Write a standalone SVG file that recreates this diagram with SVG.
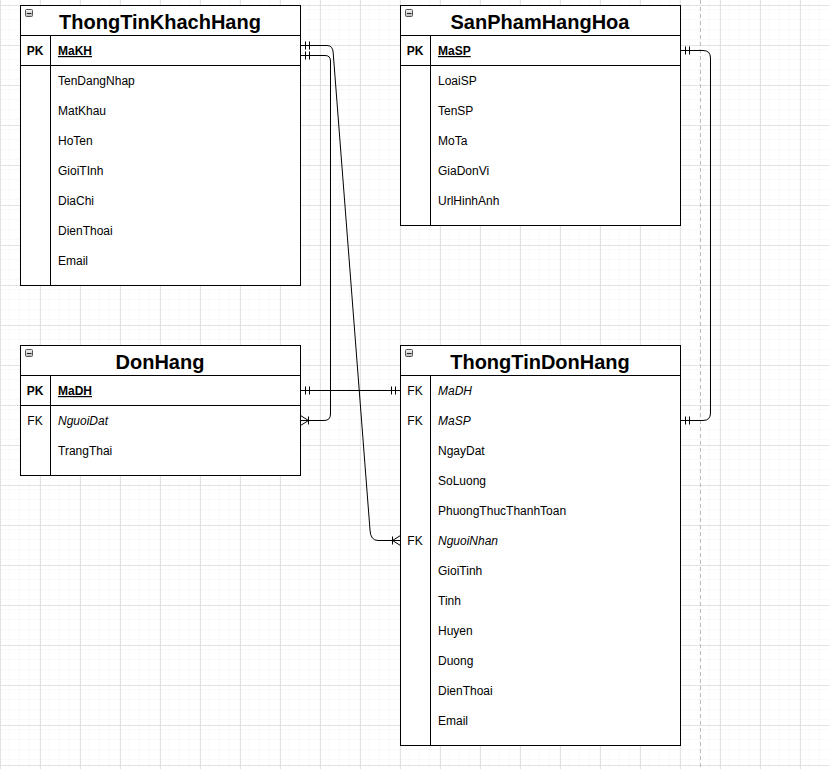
<svg xmlns="http://www.w3.org/2000/svg" width="829" height="769" viewBox="0 0 829 769">
<defs>
<pattern id="minor" width="10" height="10" patternUnits="userSpaceOnUse" x="0" y="5">
<path d="M10 0V10M0 10H10" fill="none" stroke="#f2f2f2" stroke-width="1"/>
</pattern>
<pattern id="major" width="40" height="40" patternUnits="userSpaceOnUse" x="0" y="5">
<rect width="40" height="40" fill="url(#minor)"/>
<path d="M0.5 0V40M0 0.5H40" fill="none" stroke="#e2e2e2" stroke-width="1"/>
</pattern>
<linearGradient id="ig" x1="0" y1="0" x2="0" y2="1">
<stop offset="0" stop-color="#f4f4f4"/><stop offset="1" stop-color="#b8b8b8"/>
</linearGradient>
<g id="icon"><rect x="0.5" y="0.5" width="7" height="7" rx="1" fill="url(#ig)" stroke="#555" stroke-width="1"/><path d="M2 4.5H6.5" stroke="#222" stroke-width="1"/></g>
</defs>
<style>
.box{fill:#fff;stroke:#000;stroke-width:1}
.ln{stroke:#000;stroke-width:1;fill:none}
.title{font-family:"Liberation Sans",Helvetica,Arial,sans-serif;font-size:20px;font-weight:bold;text-anchor:middle;fill:#000}
.t{font-family:"Liberation Sans",Helvetica,Arial,sans-serif;font-size:12px;fill:#000}
.k{font-family:"Liberation Sans",Helvetica,Arial,sans-serif;font-size:12px;fill:#000;text-anchor:middle}
.b{font-weight:bold}
.u{text-decoration:underline}
.i{font-style:italic}
.c{stroke:#000;stroke-width:1;fill:none}
</style>
<rect width="829" height="769" fill="#fff"/>
<rect width="829" height="769" fill="url(#major)"/>
<line x1="700.5" y1="0" x2="700.5" y2="769" stroke="#bdbdbd" stroke-width="1" stroke-dasharray="4 3"/>

<g id="ThongTinKhachHang">
<rect class="box" x="20.5" y="5.5" width="280" height="280"/>
<line class="ln" x1="20.5" y1="35.5" x2="300.5" y2="35.5"/>
<line class="ln" x1="20.5" y1="65.5" x2="300.5" y2="65.5"/>
<line class="ln" x1="50.5" y1="35.5" x2="50.5" y2="285.5"/>
<use href="#icon" x="25" y="9"/>
<text class="title" x="160" y="29">ThongTinKhachHang</text>
<text class="k b" x="35" y="55">PK</text>
<text class="t b u" x="58" y="55">MaKH</text>
<text class="t" x="58" y="85">TenDangNhap</text>
<text class="t" x="58" y="115">MatKhau</text>
<text class="t" x="58" y="145">HoTen</text>
<text class="t" x="58" y="175">GioiTInh</text>
<text class="t" x="58" y="205">DiaChi</text>
<text class="t" x="58" y="235">DienThoai</text>
<text class="t" x="58" y="265">Email</text>
</g>

<g id="SanPhamHangHoa">
<rect class="box" x="400.5" y="5.5" width="280" height="220"/>
<line class="ln" x1="400.5" y1="35.5" x2="680.5" y2="35.5"/>
<line class="ln" x1="400.5" y1="65.5" x2="680.5" y2="65.5"/>
<line class="ln" x1="430.5" y1="35.5" x2="430.5" y2="225.5"/>
<use href="#icon" x="405" y="9"/>
<text class="title" x="540" y="29">SanPhamHangHoa</text>
<text class="k b" x="415" y="55">PK</text>
<text class="t b u" x="438" y="55">MaSP</text>
<text class="t" x="438" y="85">LoaiSP</text>
<text class="t" x="438" y="115">TenSP</text>
<text class="t" x="438" y="145">MoTa</text>
<text class="t" x="438" y="175">GiaDonVi</text>
<text class="t" x="438" y="205">UrlHinhAnh</text>
</g>

<g id="DonHang">
<rect class="box" x="20.5" y="345.5" width="280" height="130"/>
<line class="ln" x1="20.5" y1="375.5" x2="300.5" y2="375.5"/>
<line class="ln" x1="20.5" y1="405.5" x2="300.5" y2="405.5"/>
<line class="ln" x1="50.5" y1="375.5" x2="50.5" y2="475.5"/>
<use href="#icon" x="25" y="349"/>
<text class="title" x="160" y="369">DonHang</text>
<text class="k b" x="35" y="395">PK</text>
<text class="t b u" x="58" y="395">MaDH</text>
<text class="k" x="35" y="425">FK</text>
<text class="t i" x="58" y="425">NguoiDat</text>
<text class="t" x="58" y="455">TrangThai</text>
</g>

<g id="ThongTinDonHang">
<rect class="box" x="400.5" y="345.5" width="280" height="400"/>
<line class="ln" x1="400.5" y1="375.5" x2="680.5" y2="375.5"/>
<line class="ln" x1="430.5" y1="375.5" x2="430.5" y2="745.5"/>
<use href="#icon" x="405" y="349"/>
<text class="title" x="540" y="369">ThongTinDonHang</text>
<text class="k" x="415" y="395">FK</text>
<text class="t i" x="438" y="395">MaDH</text>
<text class="k" x="415" y="425">FK</text>
<text class="t i" x="438" y="425">MaSP</text>
<text class="t" x="438" y="455">NgayDat</text>
<text class="t" x="438" y="485">SoLuong</text>
<text class="t" x="438" y="515">PhuongThucThanhToan</text>
<text class="k" x="415" y="545">FK</text>
<text class="t i" x="438" y="545">NguoiNhan</text>
<text class="t" x="438" y="575">GioiTinh</text>
<text class="t" x="438" y="605">Tinh</text>
<text class="t" x="438" y="635">Huyen</text>
<text class="t" x="438" y="665">Duong</text>
<text class="t" x="438" y="695">DienThoai</text>
<text class="t" x="438" y="725">Email</text>
</g>

<g id="connectors">
<!-- KhachHang MaKH -> ThongTinDonHang NguoiNhan -->
<path class="c" d="M300.5 45.5H327Q333 45.5 333.2 53L370 530Q370.5 540.5 378 540.5H400.5"/>
<path class="c" d="M305.5 41.5V49.5M309.5 41.5V49.5"/>
<path class="c" d="M392.5 536.5V544.5M392.5 540.5L400.5 535.5M392.5 540.5L400.5 545.5"/>
<!-- KhachHang MaKH -> DonHang NguoiDat -->
<path class="c" d="M300.5 55.5H325Q330.5 55.5 330.5 61V414Q330.5 420.5 324 420.5H300.5"/>
<path class="c" d="M305.5 51.5V59.5M309.5 51.5V59.5"/>
<path class="c" d="M308.5 416.5V424.5M308.5 420.5L300.5 415.5M308.5 420.5L300.5 425.5"/>
<!-- DonHang MaDH -> ThongTinDonHang MaDH -->
<path class="c" d="M300.5 390.5H400.5"/>
<path class="c" d="M305.5 386.5V394.5M309.5 386.5V394.5M391.5 386.5V394.5M395.5 386.5V394.5"/>
<!-- SanPham MaSP -> ThongTinDonHang MaSP -->
<path class="c" d="M680.5 50.5H703Q710.5 50.5 710.5 58V413Q710.5 420.5 703 420.5H680.5"/>
<path class="c" d="M685.5 46.5V54.5M689.5 46.5V54.5M685.5 416.5V424.5M689.5 416.5V424.5"/>
</g>
</svg>
